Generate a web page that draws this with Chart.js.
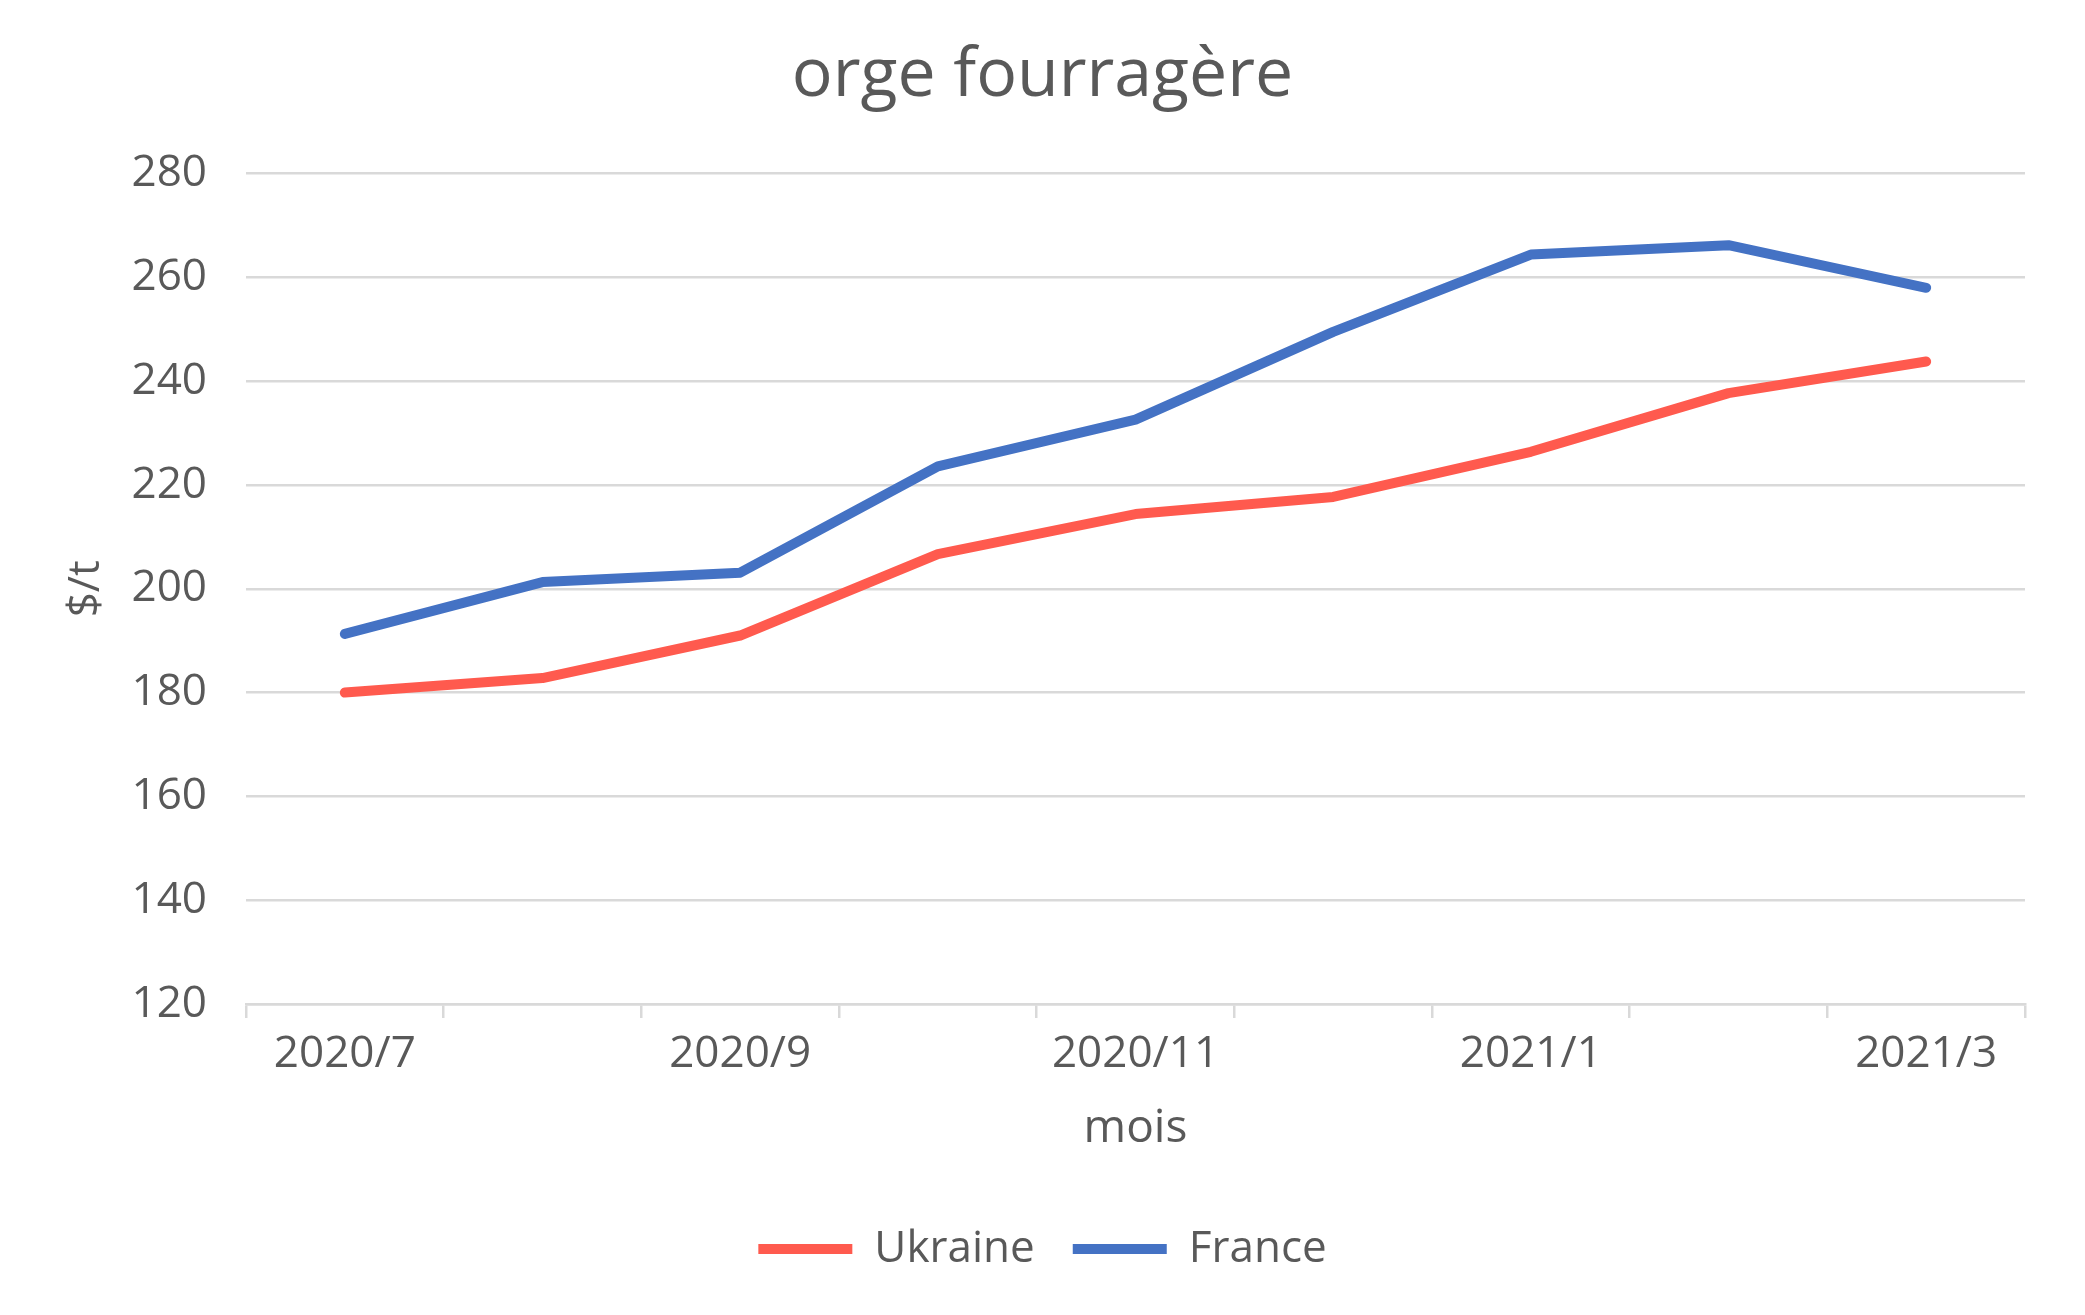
<!DOCTYPE html>
<html>
<head>
<meta charset="utf-8">
<script src="https://cdn.jsdelivr.net/npm/chart.js@4"></script>
<style>
  html, body { margin: 0; padding: 0; background: #fff; }
  #wrap { width: 2085px; height: 1315px; }
</style>
</head>
<body>
<div id="wrap"><canvas id="orgeChart"></canvas></div>
<script>
// Monthly prices
const months = ['2020/7', '2020/8', '2020/9', '2020/10', '2020/11', '2020/12', '2021/1', '2021/2', '2021/3'];
const ukraine = [180, 182.8, 191, 206.7, 214.4, 217.7, 226.4, 237.7, 243.8];
const france = [191.3, 201.3, 203.1, 223.6, 232.6, 249.5, 264.4, 266.2, 258];

const textColor = '#595959';
const gridColor = '#d9d9d9';
const fontFamily = '"Open Sans", "DejaVu Sans", sans-serif';

new Chart(document.getElementById('orgeChart'), {
  type: 'line',
  data: {
    labels: months,
    datasets: [{
      label: 'Ukraine',
      data: ukraine,
      borderColor: '#ff5a4e',
      backgroundColor: '#ff5a4e',
      borderWidth: 10,
      borderCapStyle: 'round',
      borderJoinStyle: 'round',
      pointRadius: 0,
      tension: 0
    }, {
      label: 'France',
      data: france,
      borderColor: '#4472c4',
      backgroundColor: '#4472c4',
      borderWidth: 10,
      borderCapStyle: 'round',
      borderJoinStyle: 'round',
      pointRadius: 0,
      tension: 0
    }]
  },
  options: {
    responsive: true,
    maintainAspectRatio: false,
    devicePixelRatio: 1,
    animation: false,
    layout: { padding: { left: 0, right: 0, top: 0, bottom: 34 } },
    plugins: {
      title: {
        display: true,
        text: 'orge fourragère',
        color: textColor,
        font: { family: fontFamily, size: 68, weight: 'normal' },
        padding: { top: 36, bottom: 56 }
      },
      legend: {
        display: true,
        position: 'bottom',
        labels: {
          color: textColor,
          font: { family: fontFamily, size: 44 },
          usePointStyle: true,
          pointStyle: 'line',
          pointStyleWidth: 94,
          boxHeight: 44,
          padding: 38
        }
      },
      tooltip: { enabled: false }
    },
    scales: {
      x: {
        offset: true,
        grid: {
          display: true,
          offset: true,
          drawOnChartArea: false,
          drawTicks: true,
          tickLength: 14,
          color: gridColor,
          lineWidth: 2.5
        },
        border: { display: true, color: gridColor, width: 2.5 },
        ticks: {
          color: textColor,
          font: { family: fontFamily, size: 44 },
          padding: 10,
          maxRotation: 0,
          autoSkip: false,
          callback: (v, i) => (i % 2 === 0 ? months[i] : '')
        },
        title: {
          display: true,
          text: 'mois',
          color: textColor,
          font: { family: fontFamily, size: 46 },
          padding: { top: 0, bottom: 33 }
        },
        afterFit: (scale) => { scale.height = 185; }
      },
      y: {
        min: 120,
        max: 280,
        grid: { color: gridColor, lineWidth: 2.5, drawTicks: false },
        border: { display: false },
        ticks: {
          stepSize: 20,
          color: textColor,
          font: { family: fontFamily, size: 44 },
          padding: 39
        },
        title: {
          display: true,
          text: '$/t',
          color: textColor,
          font: { family: fontFamily, size: 44 },
          padding: { top: 60, bottom: 0 }
        },
        afterFit: (scale) => { scale.width = 246; }
      },
      // empty right-hand axis, only keeps the plot clear of the right edge
      yRight: {
        position: 'right',
        min: 120,
        max: 280,
        grid: { display: false },
        border: { display: false },
        ticks: { display: false },
        afterFit: (scale) => { scale.width = 60; }
      }
    }
  }
});
</script>
</body>
</html>
